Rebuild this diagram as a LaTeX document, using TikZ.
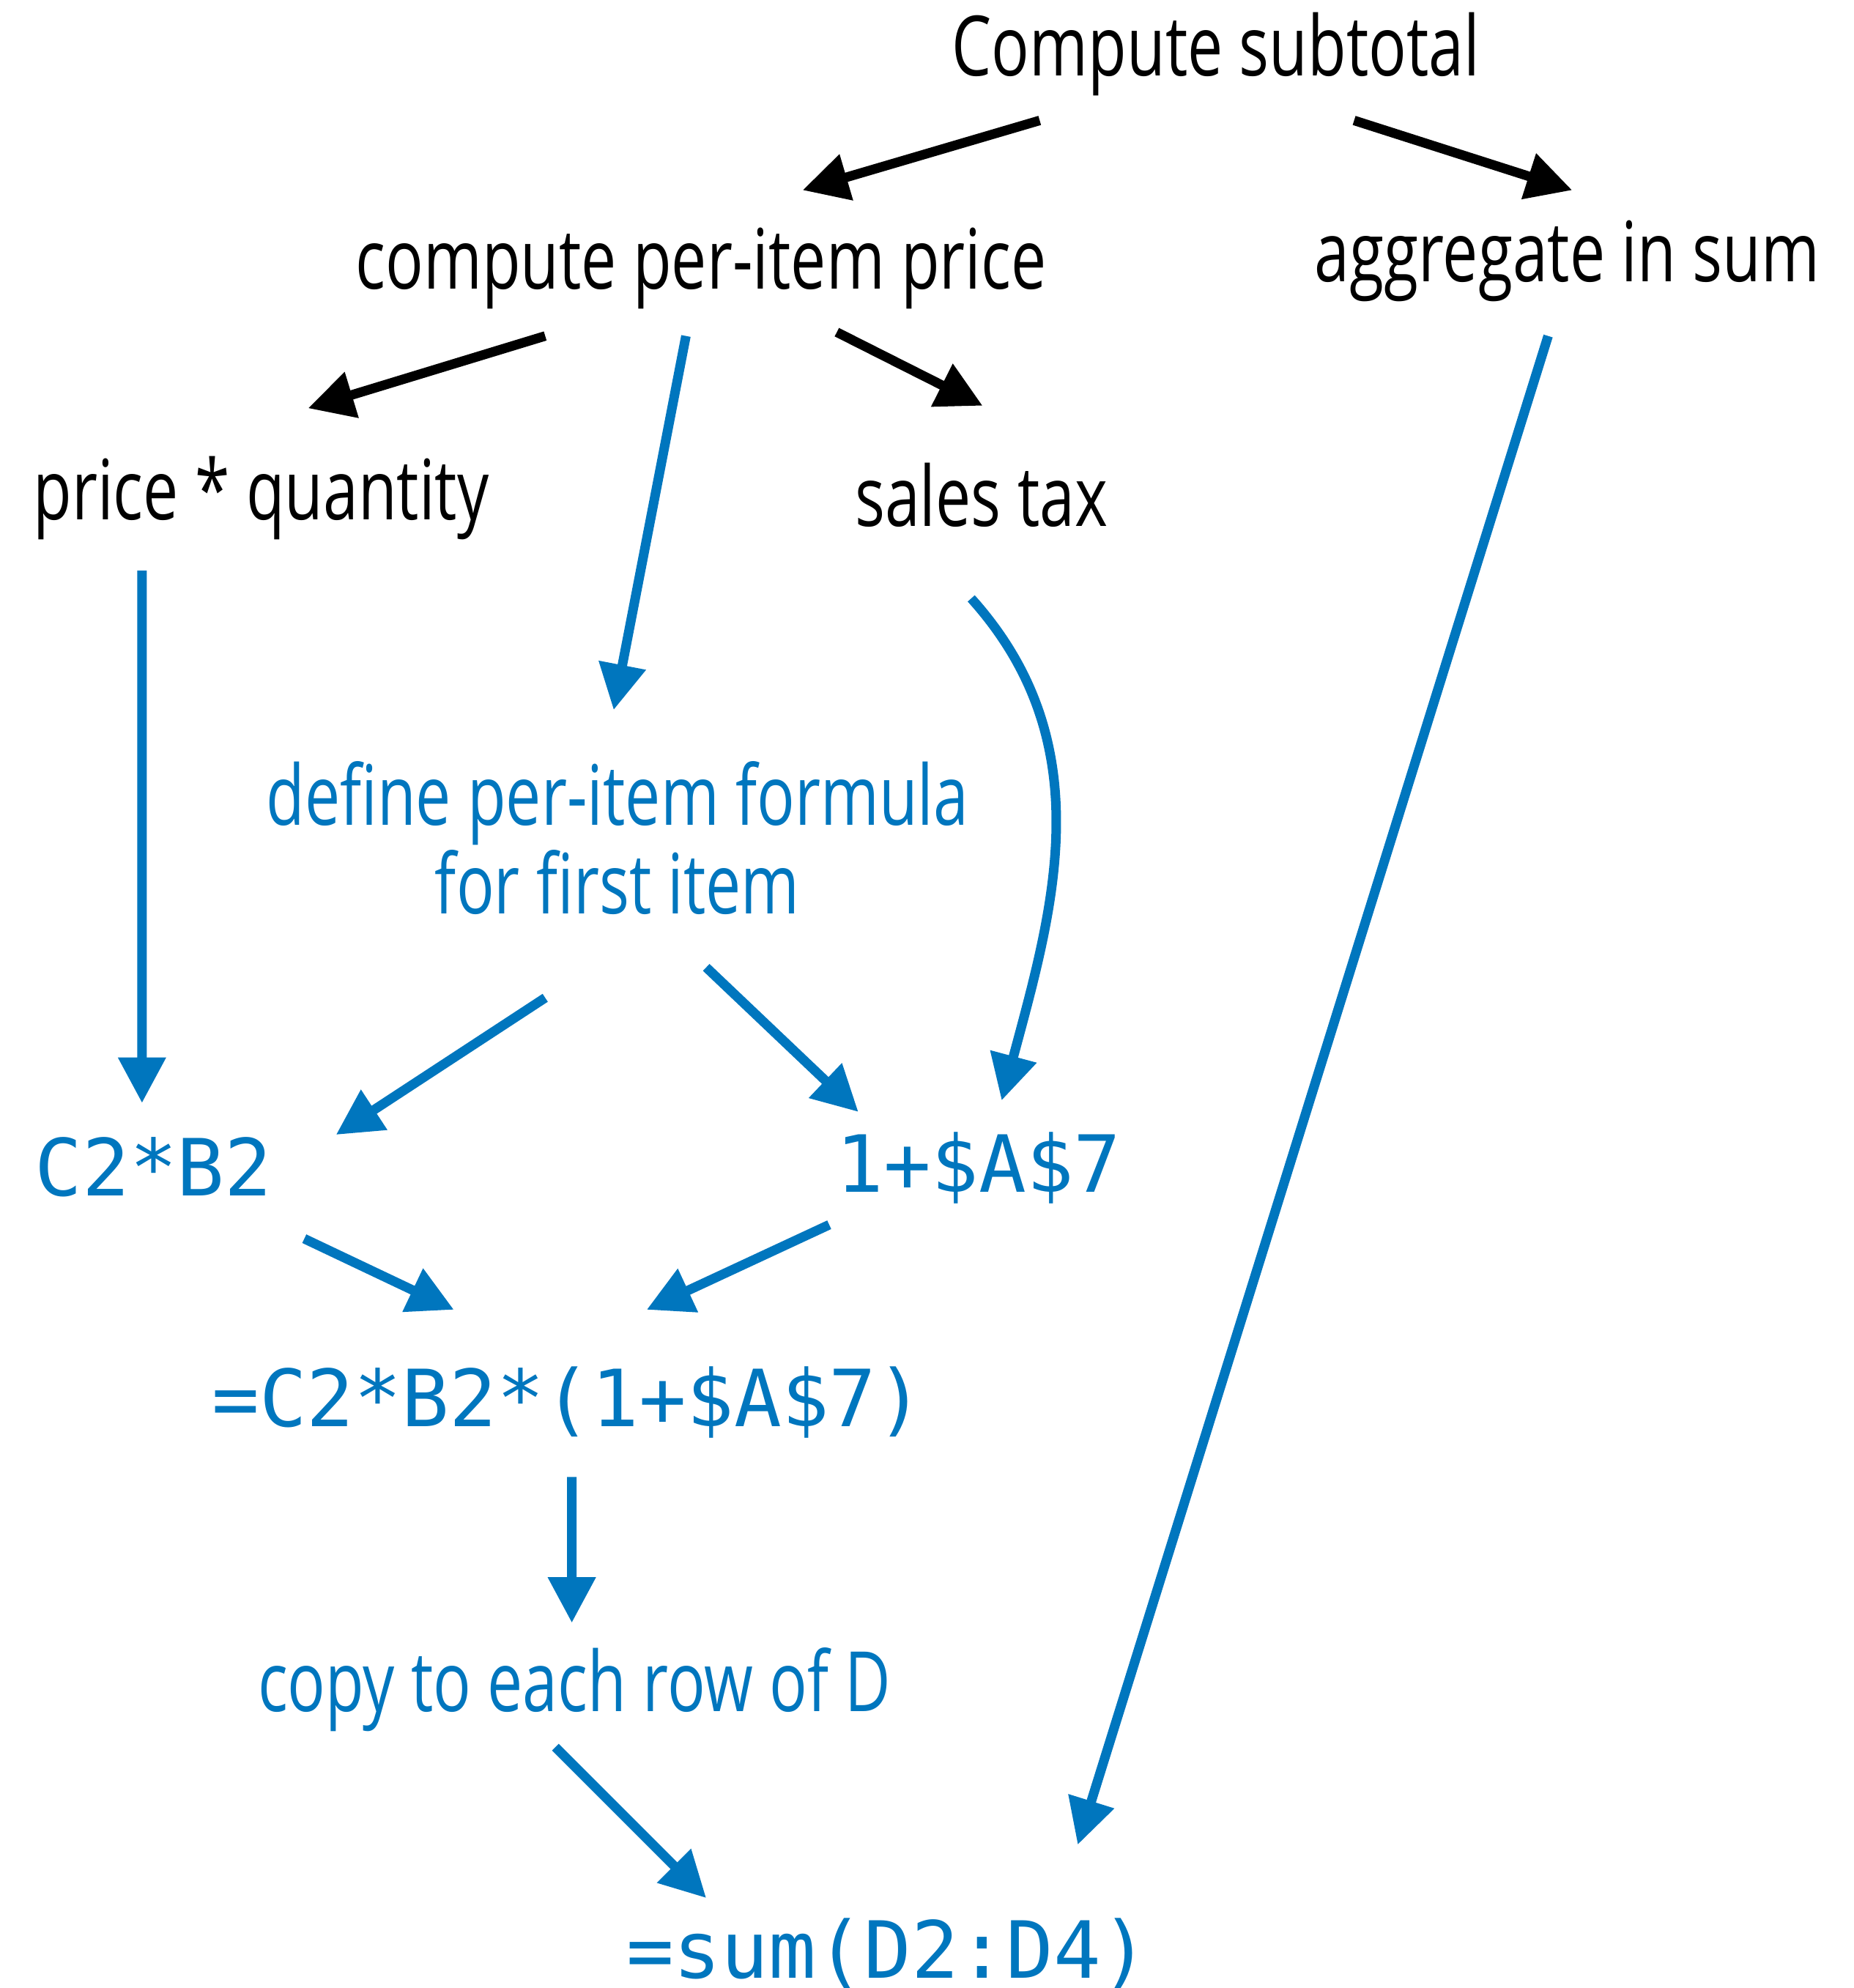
\documentclass[tikz,border=0pt]{standalone}
\usepackage{fontspec}
\setmainfont{Open Sans}[FakeStretch=0.755]
\setmonofont{DejaVu Sans Mono}
\usetikzlibrary{arrows.meta,calc}
\definecolor{stepc}{HTML}{0076BE}
\tikzset{
  lbl/.style={anchor=base, inner sep=0pt, font=\fontsize{18.7}{18.2}\selectfont},
  blbl/.style={lbl, text=stepc},
  code/.style={anchor=base, inner sep=0pt, text=stepc, font=\ttfamily\fontsize{17.7}{20}\selectfont},
  arr/.style={-{Triangle[length=3.6mm, width=3.6mm]}, line width=0.75mm},
  karr/.style={arr, color=black},
  barr/.style={arr, color=stepc},
}
\begin{document}
\begin{tikzpicture}
  \useasboundingbox (0,0) rectangle (14.62,-15.68);

  % goal and sub-goals
  \node[lbl] (top) at (9.59,-0.60) {Compute subtotal};
  \node[lbl] (item) at (5.53,-2.28) {compute per-item price};
  \node[lbl] (agg) at (12.36,-2.22) {aggregate in sum};
  \node[lbl] (pq) at (2.06,-4.10) {price * quantity};
  \node[lbl] (tax) at (7.74,-4.15) {sales tax};

  % spreadsheet steps
  \node[blbl, anchor=center, align=center] (define) at (4.87,-6.61) {define per-item formula\\for first item};
  \node[code] (cb) at (1.21,-9.43) {C2*B2};
  \node[code] (one) at (7.72,-9.40) {1+\$A\$7};
  \node[code] (form) at (4.48,-11.25) {=C2*B2*(1+\$A\$7)};
  \node[blbl] (copy) at (4.53,-13.50) {copy to each row of D};
  \node[code] (sum) at (7.00,-15.60) {=sum(D2:D4)};

  % decomposition
  \draw[karr] ([shift={(-1.39,-0.35)}]top.base) -- ([shift={(0.80,0.78)}]item.base);
  \draw[karr] ([shift={(1.09,-0.35)}]top.base) -- ([shift={(0.04,0.72)}]agg.base);
  \draw[karr] ([shift={(-1.23,-0.37)}]item.base) -- ([shift={(0.37,0.88)}]pq.base);
  \draw[karr] ([shift={(1.07,-0.34)}]item.base) -- ([shift={(0.01,0.95)}]tax.base);

  % goals to formulas
  \draw[barr] ([shift={(-0.12,-0.37)}]item.base) -- ([shift={(-0.03,1.01)}]define.center);
  \draw[barr] ([shift={(-0.94,-0.40)}]pq.base) -- ([shift={(-0.09,0.73)}]cb.base);
  \draw[barr] ([shift={(-0.08,-0.57)}]tax.base) to[out=-48, in=75] ([shift={(0.18,0.72)}]one.base);
  \draw[barr] ([shift={(-0.15,-0.43)}]agg.base) -- ([shift={(1.50,1.05)}]sum.base);
  \draw[barr] ([shift={(-0.57,-1.26)}]define.center) -- ([shift={(1.44,0.48)}]cb.base);
  \draw[barr] ([shift={(0.70,-1.02)}]define.center) -- ([shift={(-0.95,0.63)}]one.base);
  \draw[barr] ([shift={(1.19,-0.34)}]cb.base) -- ([shift={(-0.90,0.92)}]form.base);
  \draw[barr] ([shift={(-1.18,-0.26)}]one.base) -- ([shift={(0.62,0.92)}]form.base);
  \draw[barr] ([shift={(0.03,-0.40)}]form.base) -- ([shift={(-0.02,0.70)}]copy.base);
  \draw[barr] ([shift={(-0.15,-0.28)}]copy.base) -- ([shift={(-1.43,0.63)}]sum.base);
\end{tikzpicture}
\end{document}
